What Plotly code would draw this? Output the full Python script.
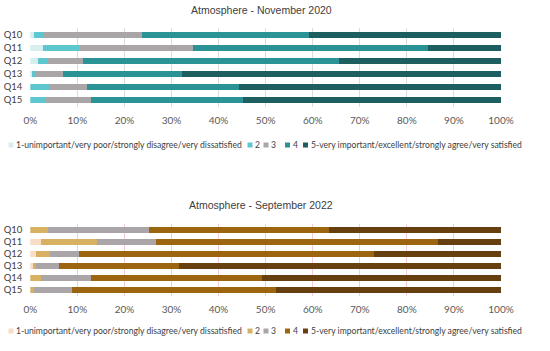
import plotly.graph_objects as go

questions = ["Q10", "Q11", "Q12", "Q13", "Q14", "Q15"]
series_names = [
    "1-unimportant/very poor/strongly disagree/very dissatisfied",
    "2", "3", "4",
    "5-very important/excellent/strongly agree/very satisfied",
]

# November 2020 (percent)
nov_1 = [0.85, 2.6, 1.7, 0.45, 0.0, 0.0]
nov_2 = [1.75, 7.8, 2.0, 0.45, 4.0, 3.3]
nov_3 = [21.1, 24.1, 7.4, 6.1, 8.1, 9.6]
nov_4 = [35.5, 49.9, 54.4, 25.3, 32.2, 32.3]
nov_5 = [40.8, 15.6, 34.5, 67.7, 55.7, 54.8]

# September 2022 (percent)
sep_1 = [0.0, 2.2, 1.2, 0.5, 0.0, 0.0]
sep_2 = [3.8, 11.9, 3.0, 0.7, 2.3, 0.85]
sep_3 = [21.5, 12.7, 6.1, 4.9, 10.6, 7.95]
sep_4 = [38.1, 59.9, 62.7, 25.5, 36.4, 43.5]
sep_5 = [36.6, 13.3, 27.0, 68.4, 50.7, 47.7]

x_ticks = [0, 10, 20, 30, 40, 50, 60, 70, 80, 90, 100]
x_tick_labels = [f"{v}%" for v in x_ticks]

nov_colors = ["#d6eef0", "#5ec6cf", "#aaa6a8", "#2b9396", "#1d5f60"]
sep_colors = ["#f7dcc6", "#d8b062", "#a9a5a9", "#9c6610", "#66400e"]

FONT = "Lato"
H = 351.0
W = 550.0

def yfrac(px):
    return 1 - px / H

fig = go.Figure()

nov = [nov_1, nov_2, nov_3, nov_4, nov_5]
sep = [sep_1, sep_2, sep_3, sep_4, sep_5]

for name, vals, col in zip(series_names, nov, nov_colors):
    fig.add_trace(go.Bar(
        y=questions, x=vals, orientation="h", name=name,
        marker=dict(color=col, line=dict(width=0)),
        xaxis="x", yaxis="y", showlegend=False,
    ))
for name, vals, col in zip(series_names, sep, sep_colors):
    fig.add_trace(go.Bar(
        y=questions, x=vals, orientation="h", name=name,
        marker=dict(color=col, line=dict(width=0)),
        xaxis="x2", yaxis="y2", showlegend=False,
    ))

xdom = [30.3 / W, 501 / W]

common_x = dict(
    range=[0, 100], tickvals=x_ticks, ticktext=x_tick_labels,
    showline=False, zeroline=False, ticks="", automargin=False,
    ticklabelstandoff=6,
    tickfont=dict(family=FONT, size=10, color="#595959"),
)
common_y = dict(
    autorange="reversed", showgrid=False, showline=False, ticks="",
    tickmode="array", tickvals=questions, automargin=False,
    tickfont=dict(family=FONT, size=9.5, color="#404040"),
    ticklabelstandoff=7,
)

# manual legend (compact Excel-style legend)
legend_sq_x = [8.5, 247.5, 263.5, 285, 303]   # px positions of legend swatches
annotations = [
    dict(text="Atmosphere - November 2020", x=261 / W, y=yfrac(10),
         xref="paper", yref="paper", showarrow=False,
         xanchor="center", yanchor="middle",
         font=dict(family="Liberation Sans", size=10.5, color="#404040")),
    dict(text="Atmosphere - September 2022", x=261 / W, y=yfrac(205),
         xref="paper", yref="paper", showarrow=False,
         xanchor="center", yanchor="middle",
         font=dict(family="Liberation Sans", size=10.5, color="#404040")),
]
shapes = []
for ly, cols in [(145, nov_colors), (331, sep_colors)]:
    for name, col, sx in zip(series_names, cols, legend_sq_x):
        shapes.append(dict(
            type="rect", xref="paper", yref="paper",
            x0=sx / W, x1=(sx + 5) / W, y0=yfrac(ly + 2.5), y1=yfrac(ly - 2.5),
            fillcolor=col, line=dict(width=0),
        ))
        annotations.append(dict(
            text=name, x=(sx + 5.5) / W, y=yfrac(ly), xref="paper", yref="paper",
            showarrow=False, xanchor="left", yanchor="middle",
            font=dict(family=FONT, size=8.6, color="#404040"),
        ))

fig.update_layout(
    width=550, height=351,
    margin=dict(l=0, r=0, t=0, b=0, pad=0, autoexpand=False),
    paper_bgcolor="white", plot_bgcolor="white",
    barmode="stack", bargap=0.52,
    showlegend=False,
    xaxis=dict(domain=xdom, anchor="y", gridcolor="#dcdcdc", gridwidth=1, **common_x),
    yaxis=dict(domain=[yfrac(106.5), yfrac(28.2)], anchor="x", **common_y),
    xaxis2=dict(domain=xdom, anchor="y2", gridcolor="#f7c9d9", gridwidth=1, **common_x),
    yaxis2=dict(domain=[yfrac(296), yfrac(224)], anchor="x2", **common_y),
    annotations=annotations,
    shapes=shapes,
)

fig.write_html("out.html", config={"displayModeBar": False},
               post_script="document.body.style.margin='0';")
